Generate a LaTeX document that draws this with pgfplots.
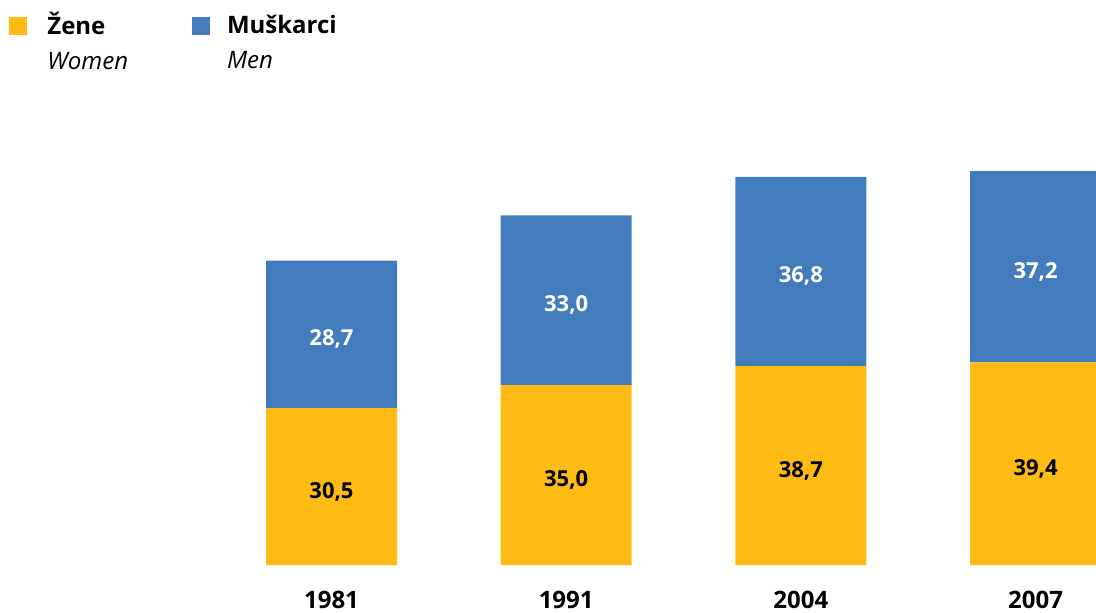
\documentclass[border=0pt]{standalone}
\usepackage{fontspec}
\setmainfont{Open Sans}
\usepackage{pgfplots}
\usepackage{pgfplotstable}
\pgfplotsset{compat=1.18}
\definecolor{zyellow}{HTML}{FDBB13}
\definecolor{mblue}{HTML}{437CBC}

\pgfplotstableread{
x women men
0 30.5 28.7
1 35.0 33.0
2 38.7 36.8
3 39.4 37.2
}\datatable

\pgfplotstableread{
x y label
0 15.25 30,5
1 17.5 35,0
2 19.35 38,7
3 19.7 39,4
}\womenlabels

\pgfplotstableread{
x y label
0 44.85 28,7
1 51.5 33,0
2 57.1 36,8
3 58.0 37,2
}\menlabels

\pgfplotsset{base/.style={
  scale only axis, width=548pt, height=282.5pt,
  xmin=-1.4126, xmax=3.2577, ymin=0, ymax=109.9,
  axis line style={draw=none}, ytick=\empty, major tick length=0pt,
  at={(0pt,23.5pt)}, anchor=south west}}

\begin{document}
\begin{tikzpicture}
\useasboundingbox (0,0) rectangle (548pt,306pt);
\begin{axis}[base,
  ybar stacked, bar width=65.5pt,
  xtick={0,1,2,3}, xticklabels={1981,1991,2004,2007},
  xticklabel style={font=\fontsize{12}{14.4}\selectfont\bfseries, anchor=base, yshift=-21.5pt},
  legend columns=2, legend cell align=left,
  legend style={at={(0,1)}, anchor=north west, draw=none, fill=none, inner sep=0pt,
    font=\fontsize{12}{14.4}\selectfont, xshift=4.5pt, yshift=-6pt,
    nodes={inner sep=0pt},
    /tikz/column 1/.style={column sep=10pt},
    /tikz/column 3/.style={column sep=8.3pt}},
]
\addplot[fill=zyellow, draw=none, legend image code/.code={\fill[zyellow] (0pt,-5pt) rectangle (9pt,4pt);}] table[x=x,y=women]{\datatable};
\addlegendentry{\begin{tabular}[t]{@{}l@{}}\makebox[72.5pt][l]{\bfseries Žene}\\[3.1pt]\itshape Women\end{tabular}}
\addplot[fill=mblue, draw=none, legend image code/.code={\fill[mblue] (0pt,-5pt) rectangle (9pt,4pt);}] table[x=x,y=men]{\datatable};
\addlegendentry{\begin{tabular}[t]{@{}l@{}}\bfseries Muškarci\\[3.1pt]\itshape Men\end{tabular}}
\end{axis}
\begin{axis}[base, hide axis, xtick=\empty,
  every node near coord/.append style={anchor=center, yshift=-2.5pt, font=\fontsize{11}{13}\selectfont\bfseries}]
\addplot[draw=none, mark=none, nodes near coords, point meta=explicit symbolic,
  every node near coord/.append style={text=black}] table[x=x,y=y,meta=label]{\womenlabels};
\addplot[draw=none, mark=none, nodes near coords, point meta=explicit symbolic,
  every node near coord/.append style={text=white}] table[x=x,y=y,meta=label]{\menlabels};
\end{axis}
\end{tikzpicture}
\end{document}
